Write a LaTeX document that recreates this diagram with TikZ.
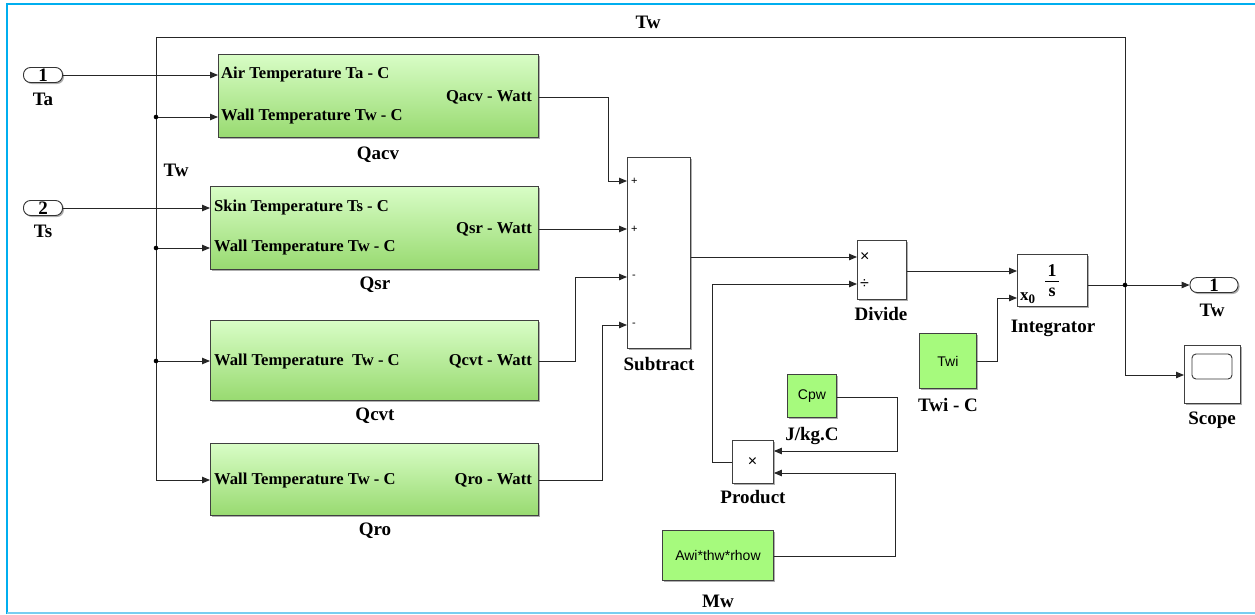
\documentclass[tikz,border=0pt]{standalone}
\usepackage{fontspec}
\setmainfont{Liberation Serif}
\newfontfamily\arial{Liberation Sans}
\usetikzlibrary{arrows.meta,shadows,calc}

\definecolor{gtop}{RGB}{216,253,198}
\definecolor{gbot}{RGB}{152,218,112}
\definecolor{cgreen}{RGB}{166,250,125}
\definecolor{frameblue}{RGB}{0,174,239}
\definecolor{framelight}{RGB}{120,206,240}

\tikzset{
  wire/.style={draw=black!85, line width=0.9pt},
  sig/.style={wire, -{Triangle[length=8pt,width=6.5pt]}},
  shade/.style={drop shadow={shadow xshift=1.5pt, shadow yshift=-1.5pt, opacity=0.45, fill=black!70}},
  gblock/.style={draw=black!75, line width=0.9pt, top color=gtop, bottom color=gbot, shade,
    anchor=north west, inner sep=0pt},
  wblock/.style={draw=black!75, line width=0.9pt, fill=white, shade, anchor=north west, inner sep=0pt},
  cblock/.style={draw=black!75, line width=0.9pt, fill=cgreen, shade, anchor=north west, inner sep=0pt,
    font=\arial\fontsize{14}{14}\selectfont},
  pill/.style={draw=black!80, line width=0.9pt, rounded corners=7pt, fill=white, shade,
    minimum width=39pt, minimum height=15pt, inner sep=0pt, font=\bfseries\fontsize{19}{19}\selectfont},
  lbl/.style={font=\bfseries\fontsize{19}{19}\selectfont, inner sep=0pt},
  porttxt/.style={font=\bfseries\fontsize{16.6}{16.6}\selectfont, inner sep=0pt},
  sign/.style={font=\arial\fontsize{11}{11}\selectfont, inner sep=0pt},
  op/.style={font=\arial\fontsize{16}{16}\selectfont, inner sep=0pt},
}

\begin{document}
\begin{tikzpicture}[x=1pt,y=-1pt]
\useasboundingbox (0,0) rectangle (1255,614);

% window frame
\draw[frameblue, line width=2.2pt] (7,614) -- (7,4) -- (1255,4);
\draw[framelight, line width=2pt] (7,613) -- (1255,613);

% inports
\node[pill] (in1) at (43,75) {1};
\node[lbl] (in1l) at (43,99) {Ta};
\node[pill] (in2) at (43,208) {2};
\node[lbl] (in2l) at (43,231) {Ts};

% heat-flow subsystems
\node[gblock, minimum width=320pt, minimum height=83pt] (qacv) at (218,54) {};
\node[porttxt, anchor=west] (qacv-i1) at (221,75) {Air Temperature Ta - C};
\node[porttxt, anchor=west] (qacv-i2) at (221,117) {Wall Temperature Tw - C};
\node[porttxt, anchor=east] (qacv-o) at (532,97) {Qacv - Watt};
\node[lbl] (qacvl) at (378,155) {Qacv};

\node[gblock, minimum width=328pt, minimum height=83pt] (qsr) at (210,186) {};
\node[porttxt, anchor=west] (qsr-i1) at (214,208) {Skin Temperature Ts - C};
\node[porttxt, anchor=west] (qsr-i2) at (214,248) {Wall Temperature Tw - C};
\node[porttxt, anchor=east] (qsr-o) at (532,229) {Qsr - Watt};
\node[lbl] (qsrl) at (375,285) {Qsr};

\node[gblock, minimum width=328pt, minimum height=80pt] (qcvt) at (210,320) {};
\node[porttxt, anchor=west] (qcvt-i) at (214,361) {Wall Temperature\ \ Tw - C};
\node[porttxt, anchor=east] (qcvt-o) at (532,361) {Qcvt - Watt};
\node[lbl] (qcvtl) at (375,416) {Qcvt};

\node[gblock, minimum width=328pt, minimum height=72pt] (qro) at (210,443) {};
\node[porttxt, anchor=west] (qro-i) at (214,480) {Wall Temperature Tw - C};
\node[porttxt, anchor=east] (qro-o) at (532,480) {Qro - Watt};
\node[lbl] (qrol) at (375,531) {Qro};

% subtract
\node[wblock, minimum width=63pt, minimum height=191pt] (sub) at (627,157) {};
\node[sign, anchor=west] (s1) at (631,181) {+};
\node[sign, anchor=west] (s2) at (631,229) {+};
\node[sign, anchor=west] (s3) at (632,277) {-};
\node[sign, anchor=west] (s4) at (632,325) {-};
\node[lbl] (subl) at (659,364) {Subtract};

% divide
\node[wblock, minimum width=49pt, minimum height=59pt] (div) at (857,240) {};
\node[op, anchor=west] (d1) at (860,257) {×};
\node[op, anchor=west] (d2) at (860,284) {÷};
\node[lbl] (divl) at (881,314) {Divide};

% integrator
\node[wblock, minimum width=70pt, minimum height=52pt] (int) at (1017,254) {};
\node[font=\bfseries\fontsize{18}{18}\selectfont, inner sep=0pt] (one) at (1052,271) {1};
\node[font=\bfseries\fontsize{18}{18}\selectfont, inner sep=0pt] (ess) at (1052,292) {s};
\draw[line width=0.9pt] (1045,281) -- (1059,281);
\node[inner sep=0pt, anchor=west] (x0) at (1020,298) {\bfseries\fontsize{17}{17}\selectfont x\raisebox{-3pt}{\fontsize{13}{13}\selectfont 0}};
\node[lbl] (intl) at (1053,328) {Integrator};

% constants
\node[cblock, minimum width=57pt, minimum height=55pt] (twi) at (919,333) {Twi};
\node[lbl] (twil) at (948,405) {Twi - C};
\node[cblock, minimum width=49pt, minimum height=43pt] (cpw) at (787,374) {Cpw};
\node[lbl] (cpwl) at (812,436) {J/kg.C};
\node[cblock, minimum width=111pt, minimum height=50pt] (mw) at (662,530) {Awi*thw*rhow};
\node[lbl] (mwl) at (718,601) {Mw};

% product (flipped, output on the left)
\node[wblock, minimum width=41pt, minimum height=43pt] (prod) at (732,440) {};
\node[op] (px) at (752.5,462) {×};
\node[lbl] (prodl) at (753,497) {Product};

% outport and scope
\node[pill, minimum width=48pt] (out1) at (1214,285) {1};
\node[lbl] (out1l) at (1212,310) {Tw};
\node[wblock, minimum width=56pt, minimum height=58pt] (scope) at (1184,345) {};
\draw[black!80, line width=0.9pt, rounded corners=4pt] (1192,354) rectangle (1232,379);
\node[lbl] (scopel) at (1212,420) {Scope};

% labels on the feedback bus
\node[lbl] (twtop) at (648,22) {Tw};
\node[lbl] (twbus) at (176,170) {Tw};

% coordinates of the feedback bus
\coordinate (jout) at (1125,285);
\coordinate (busTL) at (156,37);
\coordinate (j1) at (busTL |- qacv-i2);
\coordinate (j2) at (busTL |- qsr-i2);
\coordinate (j3) at (busTL |- qcvt-i);

% input signals
\draw[sig] (in1.east) -- (qacv.west |- qacv-i1);
\draw[sig] (in2.east) -- (qsr.west |- qsr-i1);

% feedback bus Tw
\draw[sig] (jout) |- (busTL) |- (qro.west |- qro-i);
\draw[sig] (j1) -- (qacv.west |- qacv-i2);
\draw[sig] (j2) -- (qsr.west |- qsr-i2);
\draw[sig] (j3) -- (qcvt.west |- qcvt-i);
\fill (j1) circle[radius=2.3pt];
\fill (j2) circle[radius=2.3pt];
\fill (j3) circle[radius=2.3pt];

% heat flows into the subtract block
\draw[sig] (qacv.east |- qacv-o) -| (608,181) -- (sub.west |- s1);
\draw[sig] (qsr.east |- qsr-o) -- (sub.west |- s2);
\draw[sig] (qcvt.east |- qcvt-o) -| (575,277) -- (sub.west |- s3);
\draw[sig] (qro.east |- qro-o) -| (602,325) -- (sub.west |- s4);

% net heat over heat capacity
\draw[sig] (sub.east |- 0,257) -- (div.west |- d1);
\draw[sig] (prod.west |- px) -| (712,284) -- (div.west |- d2);
\draw[sig] (cpw.east |- 0,397) -| (897,451) -- (prod.east |- 0,451);
\draw[sig] (mw.east |- 0,556) -| (895,473) -- (prod.east |- 0,473);

% integration
\draw[sig] (div.east |- 0,271) -- (int.west |- 0,271);
\draw[sig] (twi.east |- 0,361) -| (997,298) -- (int.west |- 0,298);
\draw[sig] (int.east |- jout) -- (out1.west);
\draw[sig] (jout) |- (scope.west |- 0,375);
\fill (jout) circle[radius=2.3pt];
\end{tikzpicture}
\end{document}
